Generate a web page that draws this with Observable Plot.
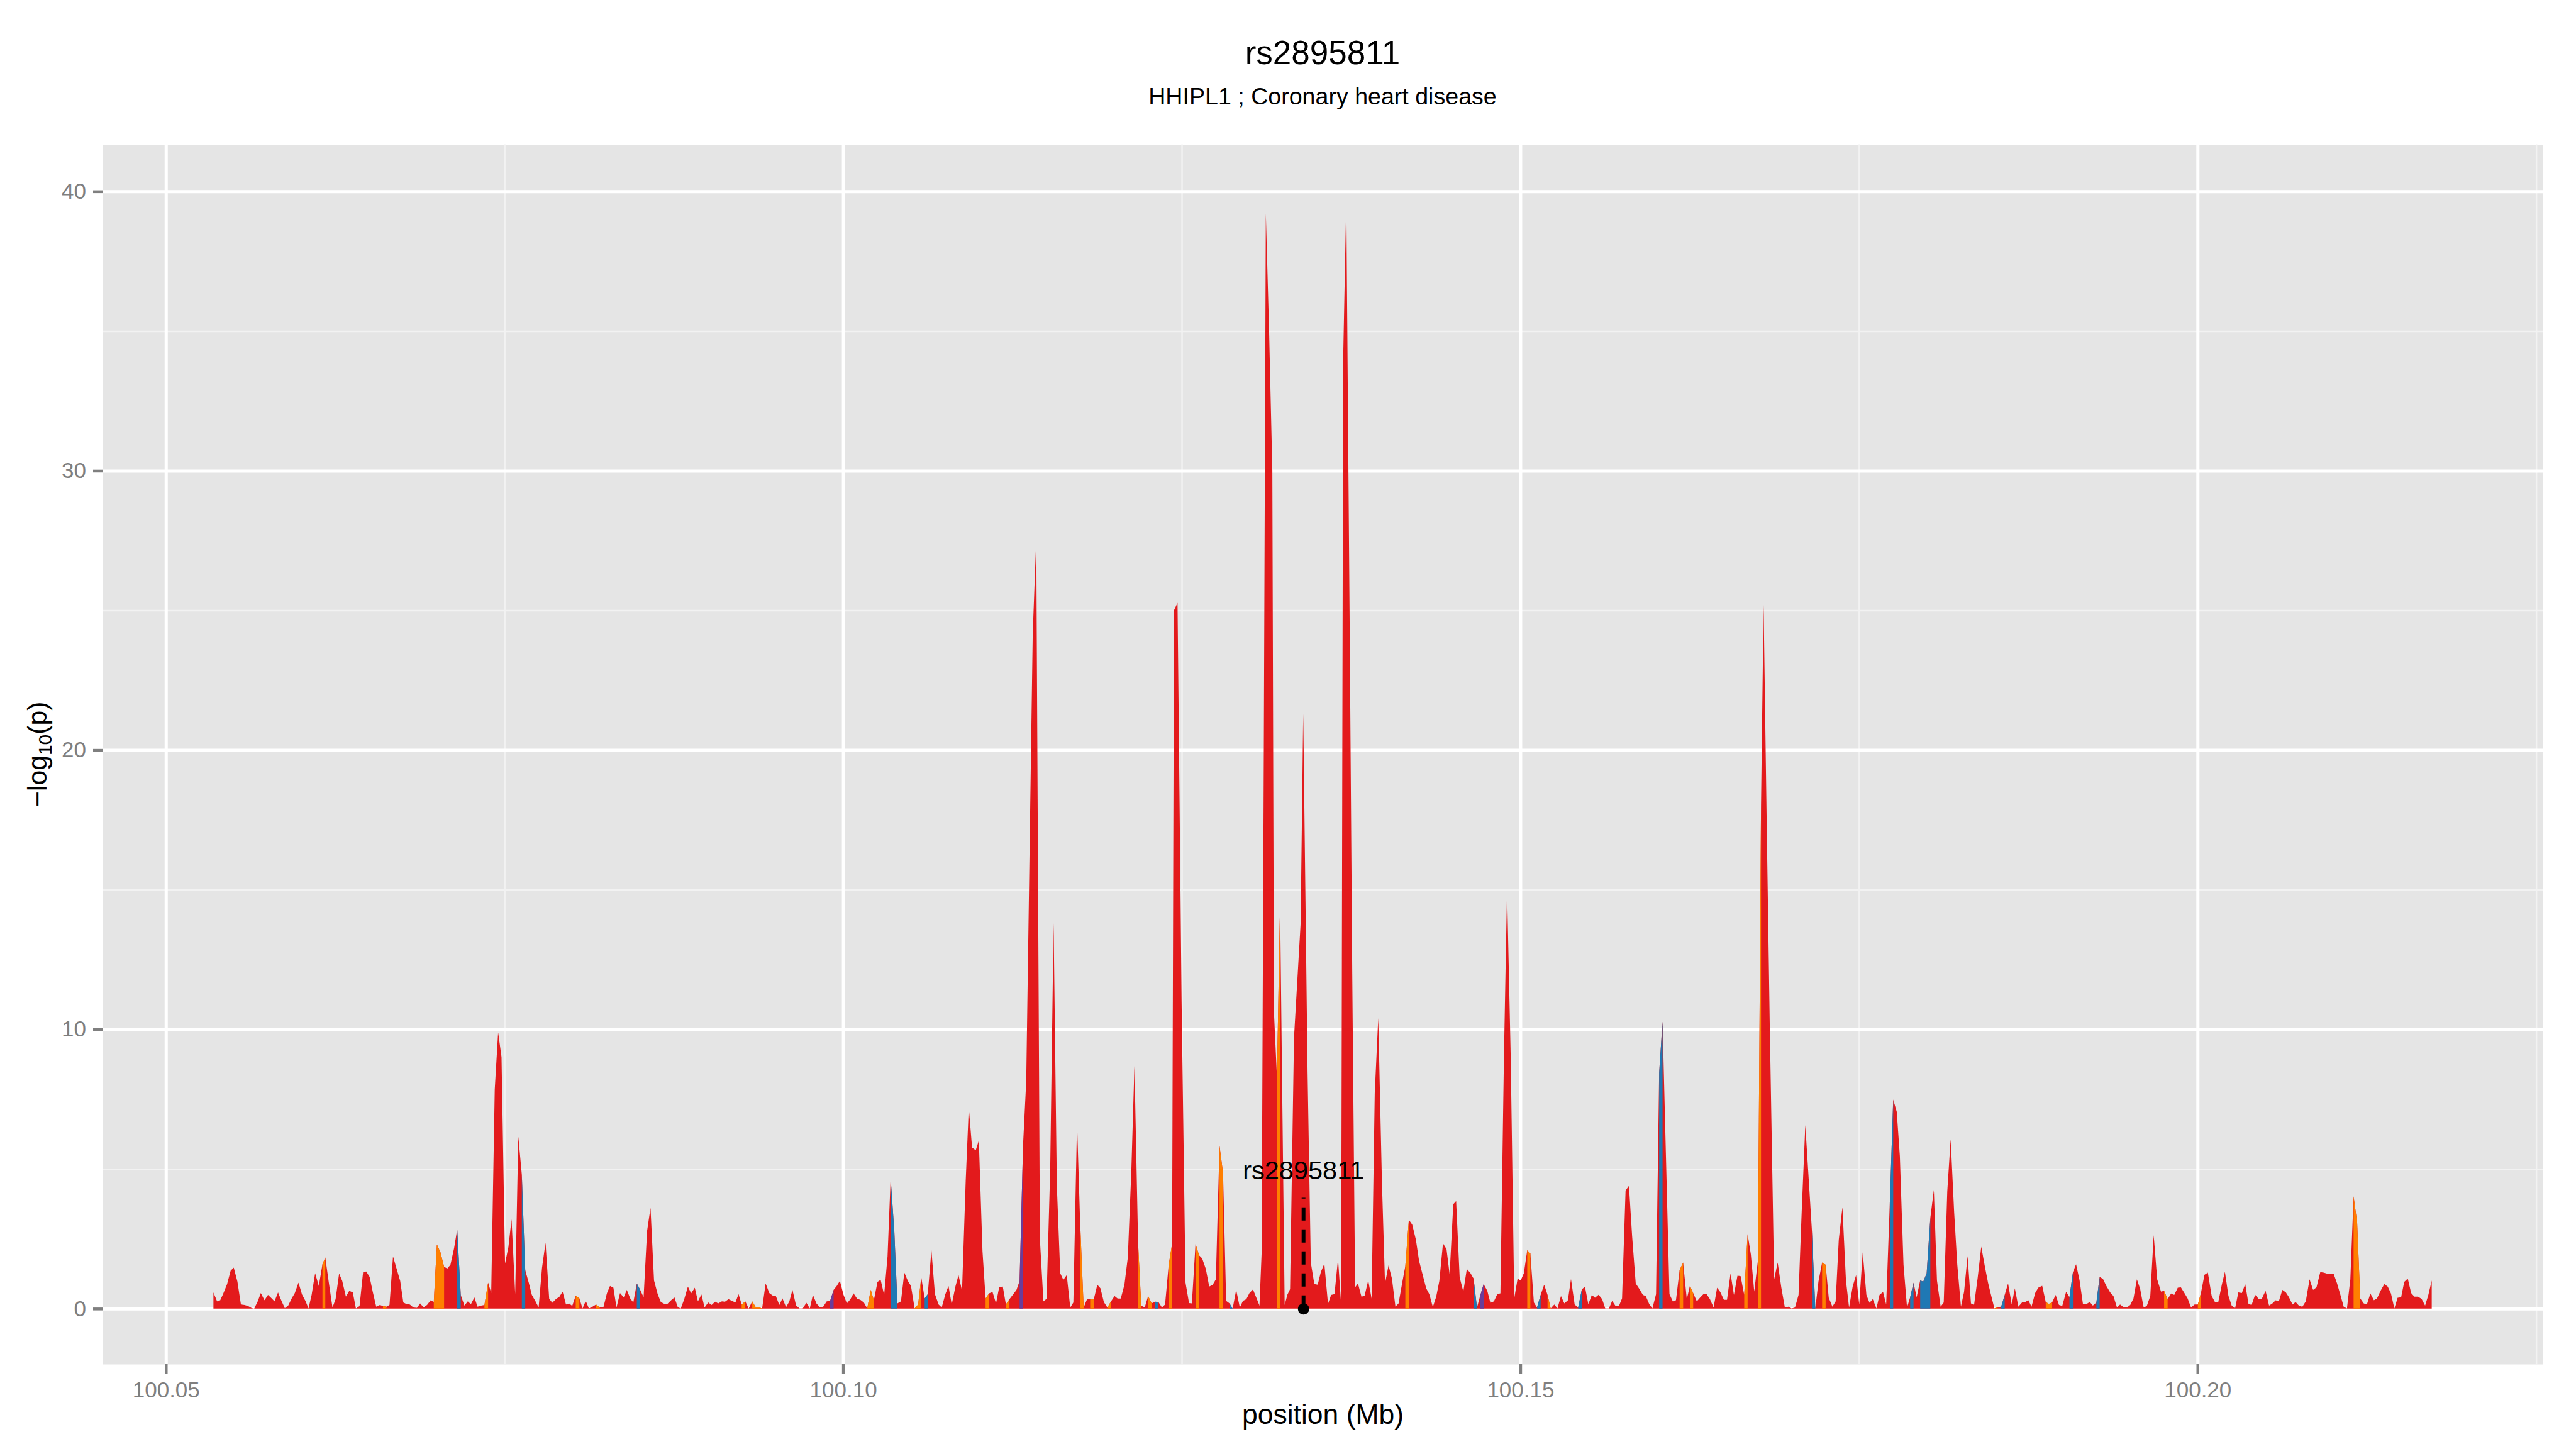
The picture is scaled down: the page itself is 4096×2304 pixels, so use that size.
<!DOCTYPE html>
<html><head><meta charset="utf-8">
<script src="https://cdn.jsdelivr.net/npm/d3@7"></script>
<script src="https://cdn.jsdelivr.net/npm/@observablehq/plot@0.6"></script>
<style>
html,body{margin:0;padding:0;background:#fff;}
body{width:4096px;height:2304px;overflow:hidden;font-family:"Liberation Sans",Arial,Helvetica,sans-serif;}
#header{position:relative;width:4096px;height:200px;}
.t{position:absolute;text-align:center;white-space:nowrap;line-height:1;color:#000;}
#chart svg{display:block;}
</style></head><body>
<div id="header"><div id="title" class="t"></div><div id="subtitle" class="t"></div></div>
<div id="chart"></div>
<script>
const titleText = "rs2895811";
const subtitleText = "HHIPL1 ; Coronary heart disease";
const xLabel = "position (Mb)";
const yLabelParts = ["\u2212log", "10", "(p)"];
const xTicks = [100.05, 100.10, 100.15, 100.20];
const xMinorTicks = [100.075, 100.125, 100.175, 100.225];
const yTicks = [0, 10, 20, 30, 40];
const yMinorTicks = [5, 15, 25, 35];
const ldClasses = ["r", "o", "b", "p"];
const ldColors = ["#E31A1C", "#FF7F00", "#1F78B4", "#6A3D9A"];
const leadNames = ["rs2895811"];
const leadPositions = [100.13397];
const leadLabelY = [4.95];
const leadLineTop = [3.97];

// [position (Mb), -log10(p), colour class]
const snps = [
[100.05351,0.58,"r"],[100.05378,0.26,"r"],[100.05401,0.30,"r"],[100.05422,0.52,"r"],[100.05452,0.88,"r"],[100.05478,1.36,"r"],
[100.05501,1.47,"r"],[100.05528,0.97,"r"],[100.05554,0.15,"r"],[100.05581,0.13,"r"],[100.05607,0.09,"r"],[100.05634,0.02,"r"],
[100.05652,0.00,"r"],[100.05678,0.26,"r"],[100.05701,0.56,"r"],[100.05728,0.30,"r"],[100.05754,0.49,"r"],[100.05781,0.37,"r"],
[100.05802,0.26,"r"],[100.05828,0.58,"r"],[100.05855,0.26,"r"],[100.05878,0.02,"r"],[100.05903,0.11,"r"],[100.05929,0.37,"r"],
[100.05952,0.56,"r"],[100.05979,0.93,"r"],[100.06005,0.51,"r"],[100.06032,0.26,"r"],[100.06053,0.01,"r"],[100.06076,0.49,"r"],
[100.06102,1.27,"r"],[100.06129,0.81,"r"],[100.06156,1.59,"o"],[100.06177,1.83,"r"],[100.06203,0.93,"r"],[100.06230,0.04,"r"],
[100.06253,0.34,"r"],[100.06279,1.26,"r"],[100.06302,0.99,"r"],[100.06329,0.43,"r"],[100.06354,0.64,"r"],[100.06380,0.58,"r"],
[100.06403,0.01,"r"],[100.06430,0.09,"r"],[100.06456,1.31,"r"],[100.06479,1.33,"r"],[100.06504,1.14,"r"],[100.06527,0.61,"r"],
[100.06553,0.07,"r"],[100.06580,0.13,"r"],[100.06603,0.09,"o"],[100.06628,0.07,"r"],[100.06651,0.13,"r"],[100.06677,1.87,"r"],
[100.06704,1.42,"r"],[100.06730,0.99,"r"],[100.06753,0.22,"r"],[100.06778,0.16,"r"],[100.06801,0.15,"r"],[100.06827,0.04,"r"],
[100.06854,0.03,"r"],[100.06877,0.19,"r"],[100.06903,0.04,"r"],[100.06928,0.13,"r"],[100.06955,0.30,"r"],[100.06978,0.24,"o"],
[100.07001,2.30,"o"],[100.07027,2.02,"o"],[100.07054,1.50,"r"],[100.07078,1.44,"r"],[100.07101,1.57,"r"],[100.07128,2.17,"r"],
[100.07151,2.84,"b"],[100.07177,0.49,"r"],[100.07204,0.11,"r"],[100.07229,0.26,"r"],[100.07252,0.16,"r"],[100.07278,0.40,"r"],
[100.07301,0.07,"r"],[100.07328,0.11,"r"],[100.07352,0.13,"o"],[100.07379,0.93,"r"],[100.07402,0.56,"r"],[100.07428,7.85,"r"],
[100.07453,9.89,"r"],[100.07478,9.01,"r"],[100.07504,1.61,"r"],[100.07529,2.21,"r"],[100.07552,3.20,"r"],[100.07579,0.52,"r"],
[100.07602,6.16,"r"],[100.07628,4.79,"b"],[100.07653,1.38,"r"],[100.07679,0.93,"r"],[100.07702,0.49,"r"],[100.07729,0.26,"r"],
[100.07752,0.04,"r"],[100.07777,1.46,"r"],[100.07803,2.36,"r"],[100.07830,0.35,"r"],[100.07853,0.21,"r"],[100.07879,0.34,"r"],
[100.07906,0.43,"r"],[100.07929,0.61,"r"],[100.07954,0.15,"r"],[100.07978,0.18,"r"],[100.08000,0.10,"r"],[100.08026,0.47,"o"],
[100.08053,0.37,"r"],[100.08076,0.01,"r"],[100.08100,0.28,"r"],[100.08123,0.01,"r"],[100.08150,0.07,"r"],[100.08176,0.15,"o"],
[100.08203,0.04,"r"],[100.08230,0.04,"r"],[100.08256,0.55,"r"],[100.08279,0.81,"r"],[100.08304,0.75,"r"],[100.08327,0.04,"r"],
[100.08353,0.56,"r"],[100.08380,0.40,"r"],[100.08403,0.67,"r"],[100.08428,0.37,"r"],[100.08451,0.22,"r"],[100.08477,0.90,"b"],
[100.08502,0.67,"r"],[100.08527,0.41,"r"],[100.08553,2.79,"r"],[100.08578,3.61,"r"],[100.08604,1.01,"r"],[100.08631,0.52,"r"],
[100.08654,0.24,"r"],[100.08680,0.17,"r"],[100.08703,0.17,"r"],[100.08730,0.30,"r"],[100.08755,0.40,"r"],[100.08778,0.07,"r"],
[100.08801,0.00,"r"],[100.08827,0.34,"r"],[100.08854,0.79,"r"],[100.08878,0.55,"r"],[100.08905,0.75,"r"],[100.08928,0.26,"r"],
[100.08954,0.51,"r"],[100.08977,0.04,"r"],[100.09004,0.22,"r"],[100.09029,0.13,"r"],[100.09055,0.25,"r"],[100.09078,0.19,"r"],
[100.09105,0.26,"r"],[100.09128,0.25,"r"],[100.09154,0.34,"r"],[100.09179,0.28,"r"],[100.09205,0.22,"r"],[100.09228,0.52,"r"],
[100.09251,0.15,"o"],[100.09278,0.26,"r"],[100.09303,0.00,"r"],[100.09329,0.26,"o"],[100.09356,0.04,"o"],[100.09379,0.05,"o"],
[100.09402,0.00,"r"],[100.09428,0.90,"r"],[100.09455,0.56,"r"],[100.09480,0.47,"r"],[100.09502,0.47,"r"],[100.09529,0.13,"r"],
[100.09552,0.37,"r"],[100.09579,0.05,"r"],[100.09603,0.26,"r"],[100.09626,0.67,"r"],[100.09653,0.11,"r"],[100.09679,0.01,"r"],
[100.09702,0.01,"r"],[100.09729,0.21,"r"],[100.09754,0.01,"r"],[100.09777,0.50,"r"],[100.09803,0.19,"r"],[100.09830,0.04,"r"],
[100.09853,0.07,"r"],[100.09879,0.26,"r"],[100.09904,0.28,"p"],[100.09930,0.67,"r"],[100.09953,0.81,"r"],[100.09976,0.99,"r"],
[100.10003,0.50,"r"],[100.10028,0.19,"r"],[100.10054,0.34,"r"],[100.10077,0.55,"r"],[100.10104,0.35,"r"],[100.10127,0.32,"r"],
[100.10153,0.22,"r"],[100.10178,0.01,"o"],[100.10204,0.67,"o"],[100.10227,0.30,"r"],[100.10254,0.96,"r"],[100.10277,1.03,"r"],
[100.10303,0.49,"r"],[100.10328,1.87,"r"],[100.10351,4.67,"b"],[100.10378,2.77,"b"],[100.10401,0.19,"r"],[100.10427,0.26,"r"],
[100.10452,1.29,"r"],[100.10478,0.99,"r"],[100.10501,0.81,"r"],[100.10528,0.01,"o"],[100.10554,0.15,"o"],[100.10577,1.12,"r"],
[100.10602,0.37,"b"],[100.10625,0.52,"r"],[100.10652,2.09,"r"],[100.10678,0.52,"r"],[100.10705,0.15,"r"],[100.10728,0.04,"r"],
[100.10755,0.52,"r"],[100.10778,0.81,"r"],[100.10802,0.15,"r"],[100.10829,0.79,"r"],[100.10852,1.20,"r"],[100.10878,0.64,"r"],
[100.10905,4.56,"r"],[100.10928,7.20,"r"],[100.10952,5.77,"r"],[100.10979,5.67,"r"],[100.11002,6.02,"r"],[100.11029,2.06,"r"],
[100.11052,0.37,"o"],[100.11078,0.55,"r"],[100.11103,0.60,"r"],[100.11129,0.19,"r"],[100.11152,0.76,"r"],[100.11179,0.79,"r"],
[100.11202,0.15,"o"],[100.11228,0.34,"r"],[100.11253,0.50,"r"],[100.11280,0.67,"r"],[100.11303,0.99,"p"],[100.11329,5.91,"r"],
[100.11352,8.15,"r"],[100.11400,24.18,"r"],[100.11426,27.56,"r"],[100.11453,2.47,"r"],[100.11479,0.26,"r"],[100.11502,0.35,"r"],
[100.11529,5.00,"r"],[100.11554,13.80,"r"],[100.11578,4.40,"r"],[100.11603,1.27,"r"],[100.11626,1.03,"r"],[100.11651,1.20,"r"],
[100.11677,0.04,"r"],[100.11700,0.22,"r"],[100.11727,6.64,"r"],[100.11750,3.07,"o"],[100.11776,0.04,"r"],[100.11801,0.34,"r"],
[100.11824,0.34,"o"],[100.11851,0.34,"r"],[100.11877,0.86,"r"],[100.11900,0.73,"r"],[100.11925,0.24,"r"],[100.11951,0.04,"o"],
[100.11978,0.26,"r"],[100.12004,0.45,"r"],[100.12027,0.36,"r"],[100.12050,0.36,"r"],[100.12077,0.86,"r"],[100.12102,1.83,"r"],
[100.12128,4.94,"r"],[100.12151,8.69,"r"],[100.12178,2.32,"o"],[100.12201,0.11,"r"],[100.12227,0.04,"r"],[100.12252,0.45,"o"],
[100.12278,0.19,"r"],[100.12301,0.25,"b"],[100.12328,0.24,"r"],[100.12354,0.04,"r"],[100.12377,0.15,"r"],[100.12404,1.57,"o"],
[100.12429,2.32,"r"],[100.12443,25.00,"r"],[100.12469,25.27,"r"],[100.12499,11.00,"r"],[100.12528,0.93,"r"],[100.12554,0.20,"r"],
[100.12575,0.19,"r"],[100.12602,2.32,"o"],[100.12628,1.91,"r"],[100.12651,1.80,"r"],[100.12678,1.42,"r"],[100.12703,0.79,"r"],
[100.12729,0.86,"r"],[100.12752,1.05,"r"],[100.12779,5.83,"o"],[100.12805,4.86,"r"],[100.12828,0.28,"r"],[100.12853,0.19,"b"],
[100.12876,0.00,"r"],[100.12902,0.67,"r"],[100.12929,0.04,"r"],[100.12952,0.28,"r"],[100.12977,0.34,"r"],[100.13000,0.56,"r"],
[100.13026,0.69,"r"],[100.13053,0.37,"r"],[100.13074,0.11,"r"],[100.13090,2.00,"r"],[100.13106,20.00,"r"],[100.13121,39.20,"r"],
[100.13145,35.00,"r"],[100.13169,30.00,"r"],[100.13181,10.60,"r"],[100.13203,8.30,"o"],[100.13226,14.49,"r"],[100.13260,0.13,"r"],
[100.13280,0.50,"r"],[100.13300,0.70,"r"],[100.13329,9.70,"r"],[100.13378,13.80,"r"],[100.13397,21.30,"r"],[100.13429,8.50,"r"],
[100.13453,1.65,"r"],[100.13479,0.88,"r"],[100.13504,0.86,"r"],[100.13527,1.31,"r"],[100.13553,1.61,"r"],[100.13580,0.17,"r"],
[100.13603,0.49,"r"],[100.13628,0.52,"r"],[100.13654,1.78,"r"],[100.13677,0.15,"r"],[100.13692,34.00,"r"],[100.13715,39.70,"r"],
[100.13739,25.00,"r"],[100.13759,12.00,"r"],[100.13780,0.76,"r"],[100.13801,0.90,"r"],[100.13827,0.43,"r"],[100.13850,0.46,"r"],
[100.13877,1.01,"r"],[100.13902,0.36,"r"],[100.13925,7.70,"r"],[100.13951,10.40,"r"],[100.13978,4.56,"r"],[100.14001,0.90,"r"],
[100.14027,1.55,"r"],[100.14052,1.08,"r"],[100.14078,0.07,"r"],[100.14101,0.19,"r"],[100.14128,0.93,"r"],[100.14151,1.53,"o"],
[100.14177,3.18,"r"],[100.14202,3.01,"r"],[100.14229,2.47,"r"],[100.14252,1.72,"r"],[100.14278,1.23,"r"],[100.14305,0.73,"r"],
[100.14328,0.52,"r"],[100.14354,0.06,"r"],[100.14379,0.43,"r"],[100.14402,0.99,"r"],[100.14429,2.34,"r"],[100.14455,2.13,"r"],
[100.14478,1.23,"r"],[100.14505,3.74,"r"],[100.14526,3.85,"r"],[100.14552,1.12,"r"],[100.14579,0.61,"r"],[100.14605,1.42,"r"],
[100.14632,1.27,"r"],[100.14655,1.08,"b"],[100.14680,0.04,"r"],[100.14703,0.45,"p"],[100.14729,0.88,"r"],[100.14756,0.64,"r"],
[100.14779,0.21,"r"],[100.14805,0.26,"r"],[100.14830,0.52,"r"],[100.14853,0.55,"r"],[100.14879,9.00,"r"],[100.14902,15.00,"r"],
[100.14929,9.00,"r"],[100.14955,0.37,"r"],[100.14980,1.08,"r"],[100.15003,1.01,"r"],[100.15026,1.27,"r"],[100.15051,2.09,"o"],
[100.15074,1.98,"r"],[100.15100,0.22,"r"],[100.15123,0.04,"b"],[100.15150,0.49,"r"],[100.15176,0.86,"r"],[100.15201,0.49,"o"],
[100.15224,0.01,"r"],[100.15251,0.15,"r"],[100.15274,0.01,"r"],[100.15300,0.45,"r"],[100.15325,0.19,"r"],[100.15351,0.30,"r"],
[100.15374,1.06,"r"],[100.15401,0.15,"r"],[100.15427,0.04,"b"],[100.15454,0.69,"r"],[100.15477,0.79,"r"],[100.15502,0.16,"r"],
[100.15528,0.49,"r"],[100.15551,0.39,"r"],[100.15578,0.50,"r"],[100.15604,0.34,"r"],[100.15627,0.01,"r"],[100.15654,0.01,"r"],
[100.15678,0.28,"r"],[100.15701,0.11,"r"],[100.15728,0.10,"r"],[100.15751,0.37,"r"],[100.15777,4.23,"r"],[100.15802,4.40,"r"],
[100.15825,2.62,"r"],[100.15852,0.90,"r"],[100.15878,0.71,"r"],[100.15905,0.49,"r"],[100.15926,0.45,"r"],[100.15952,0.16,"r"],
[100.15975,0.01,"r"],[100.16002,0.52,"r"],[100.16025,8.45,"b"],[100.16050,10.28,"r"],[100.16077,5.09,"r"],[100.16101,0.52,"r"],
[100.16126,0.26,"r"],[100.16149,0.30,"r"],[100.16176,1.38,"o"],[100.16202,1.65,"r"],[100.16229,0.34,"r"],[100.16252,0.82,"o"],
[100.16276,0.56,"r"],[100.16303,0.26,"r"],[100.16329,0.41,"r"],[100.16352,0.52,"r"],[100.16375,0.52,"r"],[100.16400,0.34,"r"],
[100.16427,0.04,"r"],[100.16453,0.75,"r"],[100.16476,0.60,"r"],[100.16503,0.32,"r"],[100.16526,0.32,"r"],[100.16552,1.26,"r"],
[100.16577,0.49,"r"],[100.16603,1.18,"r"],[100.16626,1.17,"r"],[100.16653,0.49,"o"],[100.16678,2.67,"r"],[100.16702,1.94,"r"],
[100.16727,0.61,"r"],[100.16754,1.72,"o"],[100.16777,18.00,"r"],[100.16796,25.20,"r"],[100.16820,17.00,"r"],[100.16842,10.00,"r"],
[100.16874,1.05,"r"],[100.16900,1.65,"r"],[100.16927,0.75,"r"],[100.16953,0.04,"r"],[100.16980,0.07,"r"],[100.17003,0.01,"r"],
[100.17028,0.04,"r"],[100.17054,0.49,"r"],[100.17077,3.44,"r"],[100.17104,6.57,"r"],[100.17130,4.56,"r"],[100.17153,2.77,"b"],
[100.17178,0.00,"r"],[100.17201,0.97,"r"],[100.17228,1.65,"o"],[100.17254,1.57,"r"],[100.17277,0.39,"r"],[100.17304,0.07,"r"],
[100.17328,0.26,"r"],[100.17351,2.47,"r"],[100.17378,3.63,"r"],[100.17404,1.01,"r"],[100.17427,0.04,"r"],[100.17454,0.80,"r"],
[100.17479,1.20,"r"],[100.17502,0.15,"r"],[100.17528,2.02,"r"],[100.17555,0.49,"r"],[100.17578,0.21,"r"],[100.17602,0.34,"r"],
[100.17629,0.01,"r"],[100.17652,0.49,"r"],[100.17678,0.60,"r"],[100.17701,0.15,"r"],[100.17728,3.81,"b"],[100.17753,7.49,"r"],
[100.17779,7.05,"r"],[100.17802,5.46,"r"],[100.17829,1.57,"r"],[100.17855,0.04,"r"],[100.17878,0.41,"b"],[100.17903,0.93,"r"],
[100.17926,0.41,"r"],[100.17952,1.01,"b"],[100.17975,0.97,"b"],[100.18000,1.27,"b"],[100.18027,3.25,"r"],[100.18053,4.25,"r"],
[100.18076,1.01,"r"],[100.18103,0.07,"r"],[100.18126,0.22,"r"],[100.18152,4.19,"r"],[100.18177,6.07,"r"],[100.18203,3.44,"r"],
[100.18226,1.57,"r"],[100.18253,0.07,"r"],[100.18276,0.60,"r"],[100.18302,1.88,"r"],[100.18327,0.19,"r"],[100.18350,0.13,"r"],
[100.18377,1.12,"r"],[100.18403,2.22,"r"],[100.18430,1.50,"r"],[100.18453,0.93,"r"],[100.18477,0.45,"r"],[100.18500,0.01,"o"],
[100.18523,0.06,"r"],[100.18550,0.07,"b"],[100.18576,0.49,"r"],[100.18601,0.90,"r"],[100.18628,0.15,"r"],[100.18651,0.73,"r"],
[100.18677,0.07,"r"],[100.18704,0.22,"r"],[100.18727,0.24,"r"],[100.18751,0.30,"r"],[100.18774,0.07,"r"],[100.18801,0.56,"r"],
[100.18824,0.75,"r"],[100.18853,0.82,"r"],[100.18879,0.24,"o"],[100.18902,0.17,"o"],[100.18926,0.22,"r"],[100.18952,0.49,"r"],
[100.18977,0.13,"r"],[100.19001,0.10,"r"],[100.19030,0.61,"r"],[100.19054,0.41,"b"],[100.19080,1.31,"r"],[100.19103,1.59,"r"],
[100.19129,1.01,"r"],[100.19154,0.16,"r"],[100.19178,0.16,"r"],[100.19204,0.24,"r"],[100.19227,0.11,"r"],[100.19253,0.22,"b"],
[100.19277,1.14,"r"],[100.19302,1.06,"r"],[100.19326,0.82,"r"],[100.19355,0.58,"r"],[100.19379,0.45,"r"],[100.19405,0.04,"r"],
[100.19428,0.15,"r"],[100.19454,0.05,"r"],[100.19478,0.04,"r"],[100.19503,0.13,"r"],[100.19527,0.37,"r"],[100.19552,1.05,"r"],
[100.19576,0.71,"r"],[100.19602,0.04,"r"],[100.19625,0.09,"r"],[100.19651,0.45,"r"],[100.19676,2.63,"r"],[100.19702,1.05,"r"],
[100.19730,0.61,"r"],[100.19753,0.64,"o"],[100.19779,0.34,"r"],[100.19805,0.54,"r"],[100.19828,0.49,"r"],[100.19854,0.75,"r"],
[100.19877,0.76,"r"],[100.19903,0.56,"r"],[100.19927,0.36,"r"],[100.19952,0.04,"r"],[100.19978,0.15,"r"],[100.20002,0.15,"o"],
[100.20025,0.56,"r"],[100.20051,1.21,"r"],[100.20076,1.29,"r"],[100.20104,0.46,"r"],[100.20130,0.22,"r"],[100.20153,0.24,"r"],
[100.20179,0.86,"r"],[100.20202,1.32,"r"],[100.20228,0.46,"r"],[100.20252,0.11,"r"],[100.20277,0.01,"r"],[100.20301,0.58,"r"],
[100.20327,0.56,"r"],[100.20352,0.88,"r"],[100.20376,0.17,"r"],[100.20399,0.13,"r"],[100.20425,0.50,"r"],[100.20451,0.35,"r"],
[100.20474,0.35,"r"],[100.20502,0.64,"r"],[100.20528,0.11,"r"],[100.20553,0.19,"r"],[100.20577,0.30,"r"],[100.20600,0.26,"r"],
[100.20626,0.67,"r"],[100.20652,0.58,"r"],[100.20675,0.41,"r"],[100.20701,0.15,"r"],[100.20724,0.24,"r"],[100.20750,0.10,"r"],
[100.20774,0.07,"r"],[100.20799,0.26,"r"],[100.20827,1.05,"r"],[100.20853,0.67,"r"],[100.20878,0.76,"r"],[100.20906,1.31,"r"],
[100.20931,1.29,"r"],[100.20957,1.25,"r"],[100.20981,1.25,"r"],[100.21004,1.26,"r"],[100.21030,0.90,"r"],[100.21053,0.52,"r"],
[100.21079,0.07,"r"],[100.21103,0.01,"r"],[100.21128,1.05,"r"],[100.21152,4.02,"o"],[100.21178,3.10,"o"],[100.21201,0.37,"r"],
[100.21227,0.19,"r"],[100.21250,0.15,"r"],[100.21276,0.54,"r"],[100.21302,0.30,"r"],[100.21325,0.37,"r"],[100.21351,0.64,"r"],
[100.21379,0.88,"r"],[100.21404,0.79,"r"],[100.21428,0.54,"r"],[100.21453,0.01,"r"],[100.21477,0.39,"r"],[100.21503,0.41,"r"],
[100.21526,0.96,"r"],[100.21552,1.08,"r"],[100.21577,0.56,"r"],[100.21601,0.43,"r"],[100.21627,0.43,"r"],[100.21654,0.35,"r"],
[100.21680,0.11,"r"],[100.21704,0.49,"r"],[100.21729,1.01,"r"]
];

// ---- layout (px, at 0.853 of the 4800x2700 reference) ----
const W = 4096, HEADER = 200, SVG_H = 2304 - HEADER;
const mL = 163, mR = 53, mT = 29.5, mB = 135;
const FONT = '"Liberation Sans", Arial, Helvetica, sans-serif';

// header
const tEl = document.getElementById("title");
tEl.textContent = titleText;
Object.assign(tEl.style, {left: mL + "px", width: (W - mL - mR) + "px", top: "57px", fontSize: "53px"});
const sEl = document.getElementById("subtitle");
sEl.textContent = subtitleText;
Object.assign(sEl.style, {left: mL + "px", width: (W - mL - mR) + "px", top: "134.5px", fontSize: "37.6px"});

// scales: ggplot-like 5% expansion
const maxP = d3.max(snps, d => d[1]);
const yDomain = [Math.min(0, d3.min(snps, d => d[1])) - 0.05 * maxP, maxP * 1.05];
const xExt = d3.extent(snps, d => d[0]);
const xPad = 0.05 * (xExt[1] - xExt[0]);
const xDomain = [xExt[0] - xPad, xExt[1] + xPad];

const pts = snps.map(d => ({pos: d[0], p: d[1], cls: d[2]}));
// coloured overlays: class of a point colours the segment to the next point
const overlays = ldClasses.slice(1).map((c, k) => {
  const data = pts.map((d, i) => ({
    pos: d.pos,
    p: (d.cls === c || (i > 0 && pts[i - 1].cls === c)) ? d.p : NaN
  }));
  return Plot.areaY(data, {x: "pos", y1: 0, y2: "p", fill: ldColors[k + 1], curve: "linear"});
});

const lead = leadNames.map((n, i) => ({name: n, pos: leadPositions[i], ly: leadLabelY[i], top: leadLineTop[i]}));

const svg = Plot.plot({
  width: W,
  height: SVG_H,
  marginLeft: mL, marginRight: mR, marginTop: mT, marginBottom: mB,
  style: {fontFamily: FONT, background: "white", color: "#7F7F7F", overflow: "visible"},
  x: {domain: xDomain, label: null},
  y: {domain: yDomain, label: null},
  marks: [
    Plot.frame({fill: "#E5E5E5", stroke: "none"}),
    Plot.ruleX(xMinorTicks.filter(v => v >= xDomain[0] && v <= xDomain[1]), {x: d => d, stroke: "#F2F2F2", strokeWidth: 2.5}),
    Plot.ruleY(yMinorTicks, {y: d => d, stroke: "#F2F2F2", strokeWidth: 2.5}),
    Plot.ruleX(xTicks, {x: d => d, stroke: "#FFFFFF", strokeWidth: 5}),
    Plot.ruleY(yTicks, {y: d => d, stroke: "#FFFFFF", strokeWidth: 5}),
    Plot.areaY(pts, {x: "pos", y1: 0, y2: "p", fill: ldColors[0], curve: "linear"}),
    ...overlays,
    Plot.ruleX(lead, {x: "pos", y1: 0, y2: "top", stroke: "black", strokeWidth: 6, strokeDasharray: "21,14"}),
    Plot.dot(lead, {x: "pos", y: 0, r: 9, fill: "black", stroke: "none"}),
    Plot.text(lead, {x: "pos", y: "ly", text: "name", fontSize: 41.5, fill: "black", lineAnchor: "middle", textAnchor: "middle"}),
    Plot.axisX({ticks: xTicks, tickFormat: d3.format(".2f"), tickSize: 15, tickPadding: 13, fontSize: 35, stroke: "#7F7F7F", fill: "#7F7F7F", strokeWidth: 4.5, label: null}),
    Plot.axisY({ticks: yTicks, tickFormat: d3.format("d"), tickSize: 15, tickPadding: 11.5, fontSize: 35, stroke: "#7F7F7F", fill: "#7F7F7F", strokeWidth: 4.5, label: null}),
    Plot.text([xLabel], {text: d => d, frameAnchor: "bottom", dy: 94, lineAnchor: "bottom", textAnchor: "middle", fontSize: 44.5, fill: "black"})
  ]
});

// y-axis title with a real subscript
const cy = (mT + (SVG_H - mB)) / 2;
const yl = d3.select(svg).append("text")
  .attr("transform", `translate(62,${cy}) rotate(-90)`)
  .attr("text-anchor", "middle")
  .attr("dy", "0.27em")
  .attr("fill", "black")
  .attr("font-size", 42.7)
  .attr("font-family", FONT);
yl.append("tspan").text(yLabelParts[0]);
yl.append("tspan").attr("font-size", 30).attr("dy", 8).text(yLabelParts[1]);
yl.append("tspan").attr("dy", -8).text(yLabelParts[2]);

document.getElementById("chart").appendChild(svg);
</script>
</body></html>
